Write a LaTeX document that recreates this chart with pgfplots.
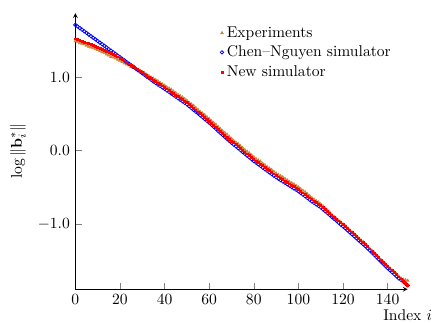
\documentclass[border=0pt]{standalone}
\usepackage{pgfplots}
\usepackage{pgfplotstable}
\pgfplotsset{compat=1.18}
\definecolor{expcol}{RGB}{205,133,63}
\pgfplotstableread{
i exp cn new
0 1.490 1.710 1.520
1 1.482 1.688 1.509
2 1.463 1.666 1.498
3 1.454 1.644 1.487
4 1.447 1.622 1.476
5 1.430 1.600 1.465
6 1.414 1.578 1.454
7 1.406 1.556 1.443
8 1.397 1.534 1.432
9 1.382 1.512 1.421
10 1.370 1.490 1.410
11 1.352 1.468 1.395
12 1.340 1.446 1.380
13 1.329 1.424 1.365
14 1.310 1.402 1.350
15 1.295 1.380 1.335
16 1.277 1.358 1.320
17 1.267 1.336 1.305
18 1.256 1.314 1.290
19 1.239 1.292 1.275
20 1.225 1.270 1.260
21 1.208 1.248 1.240
22 1.188 1.226 1.220
23 1.174 1.204 1.200
24 1.161 1.182 1.180
25 1.140 1.160 1.160
26 1.127 1.138 1.140
27 1.113 1.116 1.120
28 1.097 1.094 1.100
29 1.084 1.072 1.080
30 1.068 1.050 1.060
31 1.054 1.028 1.040
32 1.035 1.006 1.020
33 1.016 0.984 1.000
34 0.993 0.962 0.980
35 0.979 0.940 0.960
36 0.960 0.918 0.940
37 0.945 0.898 0.920
38 0.922 0.878 0.900
39 0.904 0.858 0.880
40 0.885 0.838 0.860
41 0.862 0.817 0.839
42 0.845 0.796 0.818
43 0.828 0.775 0.797
44 0.804 0.754 0.776
45 0.783 0.733 0.755
46 0.759 0.712 0.734
47 0.742 0.691 0.713
48 0.725 0.670 0.692
49 0.701 0.649 0.671
50 0.680 0.628 0.650
51 0.652 0.603 0.625
52 0.630 0.578 0.600
53 0.610 0.553 0.575
54 0.580 0.528 0.550
55 0.555 0.503 0.525
56 0.526 0.478 0.500
57 0.505 0.453 0.475
58 0.483 0.428 0.450
59 0.455 0.403 0.425
60 0.430 0.378 0.400
61 0.400 0.348 0.373
62 0.376 0.321 0.346
63 0.353 0.294 0.319
64 0.322 0.267 0.292
65 0.295 0.240 0.265
66 0.264 0.213 0.238
67 0.241 0.186 0.211
68 0.217 0.159 0.184
69 0.187 0.132 0.157
70 0.160 0.105 0.130
71 0.132 0.080 0.105
72 0.110 0.055 0.080
73 0.089 0.030 0.055
74 0.060 0.005 0.030
75 0.035 -0.020 0.005
76 0.006 -0.045 -0.020
77 -0.015 -0.070 -0.045
78 -0.037 -0.095 -0.070
79 -0.065 -0.120 -0.095
80 -0.090 -0.145 -0.120
81 -0.115 -0.167 -0.142
82 -0.134 -0.189 -0.164
83 -0.152 -0.211 -0.186
84 -0.178 -0.233 -0.208
85 -0.200 -0.255 -0.230
86 -0.226 -0.277 -0.252
87 -0.244 -0.299 -0.274
88 -0.263 -0.321 -0.296
89 -0.288 -0.343 -0.318
90 -0.310 -0.365 -0.340
91 -0.332 -0.384 -0.359
92 -0.348 -0.403 -0.378
93 -0.363 -0.422 -0.397
94 -0.386 -0.441 -0.416
95 -0.405 -0.460 -0.435
96 -0.428 -0.479 -0.454
97 -0.443 -0.498 -0.473
98 -0.459 -0.517 -0.492
99 -0.481 -0.536 -0.511
100 -0.500 -0.555 -0.530
101 -0.526 -0.578 -0.553
102 -0.546 -0.601 -0.576
103 -0.565 -0.624 -0.599
104 -0.592 -0.647 -0.622
105 -0.617 -0.670 -0.645
106 -0.645 -0.693 -0.668
107 -0.666 -0.715 -0.690
108 -0.688 -0.735 -0.710
109 -0.706 -0.755 -0.730
110 -0.730 -0.775 -0.750
111 -0.759 -0.801 -0.776
112 -0.791 -0.827 -0.802
113 -0.817 -0.853 -0.828
114 -0.843 -0.879 -0.854
115 -0.875 -0.905 -0.880
116 -0.901 -0.931 -0.906
117 -0.930 -0.957 -0.932
118 -0.953 -0.983 -0.958
119 -0.975 -1.009 -0.984
120 -1.005 -1.035 -1.010
121 -1.032 -1.059 -1.037
122 -1.063 -1.086 -1.064
123 -1.086 -1.113 -1.091
124 -1.110 -1.140 -1.118
125 -1.140 -1.167 -1.145
126 -1.167 -1.194 -1.172
127 -1.197 -1.221 -1.199
128 -1.221 -1.248 -1.226
129 -1.244 -1.275 -1.253
130 -1.275 -1.302 -1.280
131 -1.305 -1.332 -1.310
132 -1.339 -1.362 -1.340
133 -1.365 -1.392 -1.370
134 -1.392 -1.422 -1.400
135 -1.425 -1.452 -1.430
136 -1.455 -1.482 -1.460
137 -1.488 -1.512 -1.490
138 -1.515 -1.542 -1.520
139 -1.541 -1.572 -1.550
140 -1.575 -1.602 -1.580
141 -1.603 -1.630 -1.608
142 -1.635 -1.658 -1.636
143 -1.659 -1.686 -1.664
144 -1.684 -1.714 -1.692
145 -1.715 -1.742 -1.720
146 -1.738 -1.763 -1.748
147 -1.756 -1.786 -1.776
148 -1.764 -1.812 -1.804
149 -1.772 -1.837 -1.832
}\data
\begin{document}
\begin{tikzpicture}
\begin{axis}[
  name=ax,
  scale only axis,
  width=213pt, height=177pt,
  axis lines=left,
  xmin=0, xmax=149,
  ymin=-1.89, ymax=1.87,
  xtick={0,20,...,140},
  ytick={-1,0,1},
  yticklabel style={/pgf/number format/fixed,/pgf/number format/fixed zerofill,/pgf/number format/precision=1},
  tick align=inside,
  major tick style={gray},
  xlabel={Index $i$},
  xlabel style={at={(axis description cs:1,0)},anchor=base,yshift=-20pt},
  ylabel={$\log\|\mathbf{b}_i^*\|$},
  ylabel style={at={(axis description cs:0,0.5)},anchor=center,yshift=36.8pt},
  legend style={draw=none,fill=none,at={(0.421,0.975)},anchor=north west,font=\normalsize},
  legend cell align=left,
  clip=false,
]
\addplot[only marks,mark=triangle*,mark size=1.0pt,color=expcol] table[x=i,y=exp]{\data};
\addlegendentry{Experiments}
\addplot[only marks,mark=o,mark size=1.1pt,color=blue,mark options={line width=0.5pt}] table[x=i,y=cn]{\data};
\addlegendentry{Chen--Nguyen simulator}
\addplot[only marks,mark=square*,mark size=0.6pt,color=red] table[x=i,y=new]{\data};
\addlegendentry{New simulator}
\end{axis}
\pgfresetboundingbox
\path[use as bounding box] ([shift={(-48.3pt,-21pt)}]ax.south west) rectangle ++(278.8pt,206.4pt);
\end{tikzpicture}
\end{document}
